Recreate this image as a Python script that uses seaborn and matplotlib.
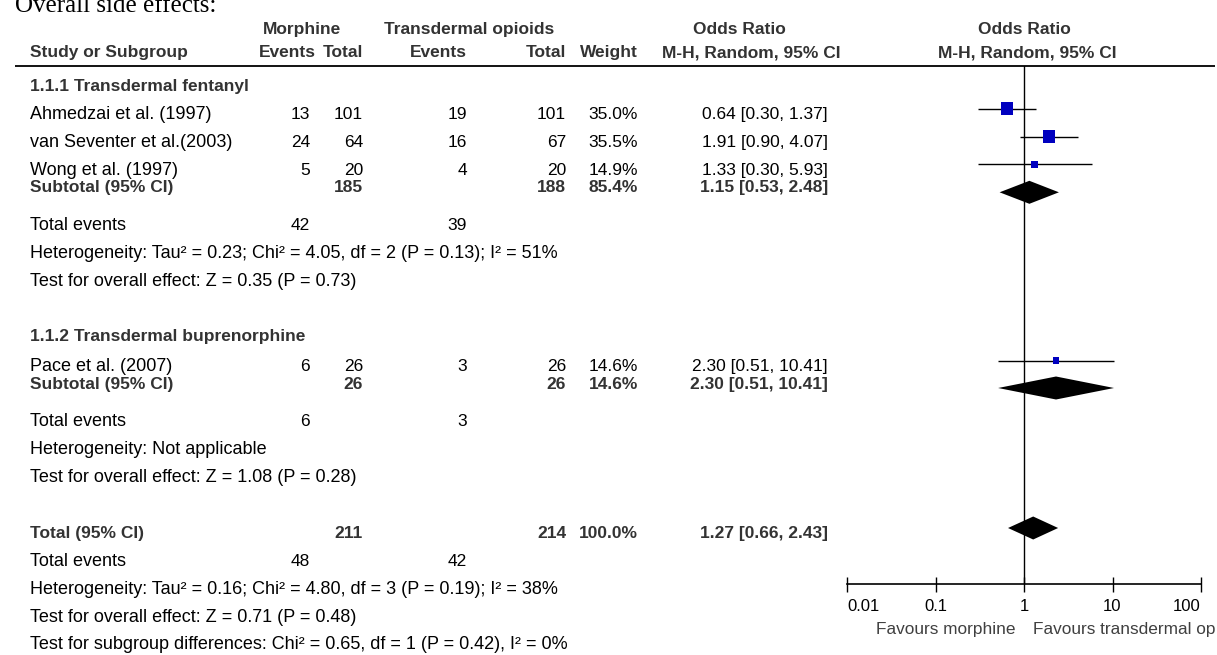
import matplotlib
matplotlib.use("Agg")
import matplotlib.pyplot as plt
import seaborn as sns
from matplotlib.ticker import NullLocator, FixedLocator

# ----------------------------------------------------------
# Data
# ----------------------------------------------------------
studies = ["Ahmedzai et al. (1997)", "van Seventer et al.(2003)",
           "Wong et al. (1997)", "Pace et al. (2007)"]
study_group = [0, 0, 0, 1]
morph_events = [13, 24, 5, 6]
morph_total = [101, 64, 20, 26]
trans_events = [19, 16, 4, 3]
trans_total = [101, 67, 20, 26]
weights = [35.0, 35.5, 14.9, 14.6]
or_est = [0.64, 1.91, 1.33, 2.30]
or_lo = [0.30, 0.90, 0.30, 0.51]
or_hi = [1.37, 4.07, 5.93, 10.41]

subgroups = ["1.1.1 Transdermal fentanyl", "1.1.2 Transdermal buprenorphine"]
sub_morph_total = [185, 26]
sub_trans_total = [188, 26]
sub_weight = [85.4, 14.6]
sub_est = [1.15, 2.30]
sub_lo = [0.53, 0.51]
sub_hi = [2.48, 10.41]
sub_morph_events = [42, 6]
sub_trans_events = [39, 3]
sub_het = ["Heterogeneity: Tau² = 0.23; Chi² = 4.05, df = 2 (P = 0.13); I² = 51%",
           "Heterogeneity: Not applicable"]
sub_z = ["Test for overall effect: Z = 0.35 (P = 0.73)",
         "Test for overall effect: Z = 1.08 (P = 0.28)"]

total_morph_total = 211
total_trans_total = 214
total_weight = 100.0
total_est, total_lo, total_hi = 1.27, 0.66, 2.43
total_morph_events = 48
total_trans_events = 42
total_het = "Heterogeneity: Tau² = 0.16; Chi² = 4.80, df = 3 (P = 0.19); I² = 38%"
total_z = "Test for overall effect: Z = 0.71 (P = 0.48)"
subgroup_diff = "Test for subgroup differences: Chi² = 0.65, df = 1 (P = 0.42), I² = 0%"

axis_ticks = [0.01, 0.1, 1, 10, 100]
tick_labels = ["0.01", "0.1", "1", "10", "100"]
favours = ["Favours morphine", "Favours transdermal op"]

# ----------------------------------------------------------
# Layout (pixels, y downwards)
# ----------------------------------------------------------
W, H = 1217, 655
FS = 12.5        # bold text and numbers
FS_TXT = 13      # plain running text
BOLD_C = "#333333"
X_NAME, X_EV_M, X_TOT_M, X_EV_T, X_TOT_T, X_W, X_CI = 30, 310, 363, 467, 566, 638, 828

# text rows (visual centre of capitals)
y_study_txt = [113, 141, 169, 365]
y_head_txt = [85, 335]
y_sub_txt = [186, 383]
y_te_txt = [224.5, 420.5]
y_het_txt = [252.5, 448.5]
y_z_txt = [280.5, 476.5]
y_tot_txt, y_tot_te, y_tot_het, y_tot_z, y_diff = 532, 560.5, 588.5, 616.5, 643

# graphic rows
y_study_mark = [108.5, 136.6, 164.3, 360.7]
y_sub_mark = [192.3, 388]
y_tot_mark = 528
DIA_H = 11.5
Y_TOP, Y_AXIS = 66, 584

sns.set_style("white")
plt.rcParams["font.family"] = ["Liberation Sans", "DejaVu Sans"]

fig = plt.figure(figsize=(W / 100, H / 100), dpi=100)
ax = fig.add_axes([0, 0, 1, 1])
ax.set_xlim(0, W)
ax.set_ylim(H, 0)
ax.axis("off")


def put(x, y, s, ha="left", bold=False, color="black", size=FS, **kw):
    ax.text(x, y + 6, s, ha=ha, va="baseline", fontsize=size,
            fontweight="bold" if bold else "normal",
            color=BOLD_C if bold else color, **kw)


def ci_text(e, lo, hi):
    return f"{e:.2f} [{lo:.2f}, {hi:.2f}]"


# title (cut at the top in the original)
ax.text(15, 12, "Overall side effects:", ha="left", va="baseline",
        fontsize=18, family=["Liberation Serif", "DejaVu Serif"], color="black")

# headers
put(302, 28, "Morphine", ha="center", bold=True)
put(469, 28, "Transdermal opioids", ha="center", bold=True)
put(739, 28, "Odds Ratio", ha="center", bold=True)
put(1024.5, 28, "Odds Ratio", ha="center", bold=True)
put(X_NAME, 51, "Study or Subgroup", bold=True)
put(316, 51, "Events", ha="right", bold=True)
put(X_TOT_M, 51, "Total", ha="right", bold=True)
put(X_EV_T, 51, "Events", ha="right", bold=True)
put(X_TOT_T, 51, "Total", ha="right", bold=True)
put(X_W, 51, "Weight", ha="right", bold=True)
put(751, 51, "M-H, Random, 95% CI", ha="center", bold=True)
put(1027.5, 51, "M-H, Random, 95% CI", ha="center", bold=True)
ax.plot([15, 1215], [Y_TOP, Y_TOP], color="black", lw=1.3, solid_capstyle="butt")

# subgroup blocks
for g, name in enumerate(subgroups):
    put(X_NAME, y_head_txt[g], name, bold=True)
    for i, s in enumerate(studies):
        if study_group[i] != g:
            continue
        y = y_study_txt[i]
        put(X_NAME, y, s, size=FS_TXT)
        put(X_EV_M, y, str(morph_events[i]), ha="right")
        put(X_TOT_M, y, str(morph_total[i]), ha="right")
        put(X_EV_T, y, str(trans_events[i]), ha="right")
        put(X_TOT_T, y, str(trans_total[i]), ha="right")
        put(X_W, y, f"{weights[i]:.1f}%", ha="right")
        put(X_CI, y, ci_text(or_est[i], or_lo[i], or_hi[i]), ha="right")
    y = y_sub_txt[g]
    put(X_NAME, y, "Subtotal (95% CI)", bold=True)
    put(X_TOT_M, y, str(sub_morph_total[g]), ha="right", bold=True)
    put(X_TOT_T, y, str(sub_trans_total[g]), ha="right", bold=True)
    put(X_W, y, f"{sub_weight[g]:.1f}%", ha="right", bold=True)
    put(X_CI, y, ci_text(sub_est[g], sub_lo[g], sub_hi[g]), ha="right", bold=True)
    put(X_NAME, y_te_txt[g], "Total events", size=FS_TXT)
    put(X_EV_M, y_te_txt[g], str(sub_morph_events[g]), ha="right")
    put(X_EV_T, y_te_txt[g], str(sub_trans_events[g]), ha="right")
    put(X_NAME, y_het_txt[g], sub_het[g], size=FS_TXT)
    put(X_NAME, y_z_txt[g], sub_z[g], size=FS_TXT)

# overall block
put(X_NAME, y_tot_txt, "Total (95% CI)", bold=True)
put(X_TOT_M, y_tot_txt, str(total_morph_total), ha="right", bold=True)
put(X_TOT_T, y_tot_txt, str(total_trans_total), ha="right", bold=True)
put(X_W, y_tot_txt, f"{total_weight:.1f}%", ha="right", bold=True)
put(X_CI, y_tot_txt, ci_text(total_est, total_lo, total_hi), ha="right", bold=True)
put(X_NAME, y_tot_te, "Total events", size=FS_TXT)
put(X_EV_M, y_tot_te, str(total_morph_events), ha="right")
put(X_EV_T, y_tot_te, str(total_trans_events), ha="right")
put(X_NAME, y_tot_het, total_het, size=FS_TXT)
put(X_NAME, y_tot_z, total_z, size=FS_TXT)
put(X_NAME, y_diff, subgroup_diff, size=FS_TXT)

# ----------------------------------------------------------
# Forest panel on a log axis
# ----------------------------------------------------------
x0, x1 = 847, 1201
fax = fig.add_axes([x0 / W, (H - Y_AXIS) / H, (x1 - x0) / W, (Y_AXIS - Y_TOP) / H])
fax.patch.set_visible(False)
fax.set_xscale("log")
fax.set_xlim(axis_ticks[0], axis_ticks[-1])
fax.set_ylim(Y_AXIS, Y_TOP)
for sp in ["top", "right", "left"]:
    fax.spines[sp].set_visible(False)
fax.spines["bottom"].set_color("black")
fax.spines["bottom"].set_linewidth(1.2)
fax.xaxis.set_major_locator(FixedLocator(axis_ticks))
fax.xaxis.set_minor_locator(NullLocator())
fax.set_xticklabels([])
fax.set_yticks([])
fax.tick_params(axis="x", direction="inout", length=10.8, width=1.0, color="black", bottom=True)

fax.axvline(1, color="black", lw=1.0, zorder=1)
fax.hlines(y_study_mark, or_lo, or_hi, color="black", lw=1.0, zorder=2)
sns.scatterplot(x=or_est, y=y_study_mark, size=weights, sizes=(25, 81),
                size_norm=(14.6, 35.5), marker="s", color="#0000BF",
                linewidth=0, legend=False, ax=fax, zorder=3)
for g in range(len(subgroups)):
    yc = y_sub_mark[g]
    fax.fill([sub_lo[g], sub_est[g], sub_hi[g], sub_est[g]],
             [yc, yc - DIA_H, yc, yc + DIA_H], color="black", lw=0, zorder=3)
fax.fill([total_lo, total_est, total_hi, total_est],
         [y_tot_mark, y_tot_mark - DIA_H, y_tot_mark, y_tot_mark + DIA_H],
         color="black", lw=0, zorder=3)

tick_ha = ["left", "center", "center", "center", "right"]
for t, lab, ha in zip(axis_ticks, tick_labels, tick_ha):
    fax.text(t, 605 + 6, lab, ha=ha, va="baseline", fontsize=12, color="black")
fax.text(0.8, 628 + 6, favours[0], ha="right", va="baseline", fontsize=12.4, color="#404040")
fax.text(1.25, 628 + 6, favours[1], ha="left", va="baseline", fontsize=12.4, color="#404040")

fig.savefig("out.png", dpi=100)
